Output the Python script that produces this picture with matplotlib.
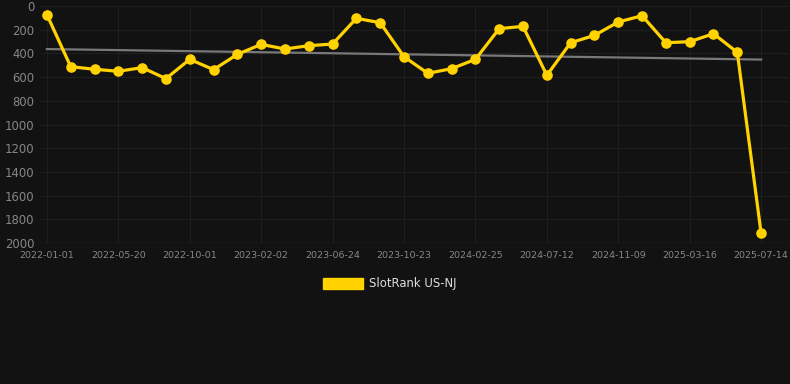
import numpy as np
import matplotlib
matplotlib.use("Agg")
import matplotlib.pyplot as plt
from matplotlib.patches import Patch

ranks = [73, 512, 534, 551, 520, 613, 450, 537, 408, 324, 363, 335, 321, 104, 141,
         428, 568, 529, 450, 191, 172, 585, 310, 248, 135, 82, 310, 301, 234, 391, 1918]
tick_labels = ["2022-01-01", "2022-05-20", "2022-10-01", "2023-02-02", "2023-06-24",
               "2023-10-23", "2024-02-25", "2024-07-12", "2024-11-09", "2025-03-16",
               "2025-07-14"]
series_name = "SlotRank US-NJ"

bg = "#121212"
gold = "#FFD200"
txt = "#878787"
grid = "#1f1f1f"

x = np.arange(len(ranks))
fig = plt.figure(figsize=(7.9, 3.84), dpi=100, facecolor=bg)
ax = fig.add_axes([40 / 790, 1 - 243 / 384, 748 / 790, 237 / 384], facecolor=bg)

# trend line (least squares)
k, b = np.polyfit(x, ranks, 1)
ax.plot(x, k * x + b, color="#787878", lw=1.6, zorder=2)

ax.plot(x, ranks, color=gold, lw=2.3, marker="o", ms=6.6, zorder=3)

ax.set_ylim(2000, 0)
ax.set_xlim(-0.29, 31.13)
ax.set_yticks(np.arange(0, 2001, 200))
ax.set_xticks(x[::3])
ax.set_xticklabels(tick_labels)
ax.tick_params(axis="y", colors=txt, labelsize=8.4, length=0, pad=4)
ax.tick_params(axis="x", colors=txt, labelsize=6.8, length=0, pad=6)
ax.grid(True, color=grid, lw=0.8)
for s in ax.spines.values():
    s.set_visible(False)
ax.axhline(2000, color="#2e2e2e", lw=1)

fig.legend(handles=[Patch(facecolor=gold, edgecolor=gold, label=series_name)],
           loc="center", bbox_to_anchor=(390 / 790, 1 - 284 / 384), frameon=False,
           labelcolor="#dddddd", fontsize=8.4, handlelength=3.4, handleheight=0.95,
           handletextpad=0.55)

fig.savefig("out.png", dpi=100, facecolor=bg)
